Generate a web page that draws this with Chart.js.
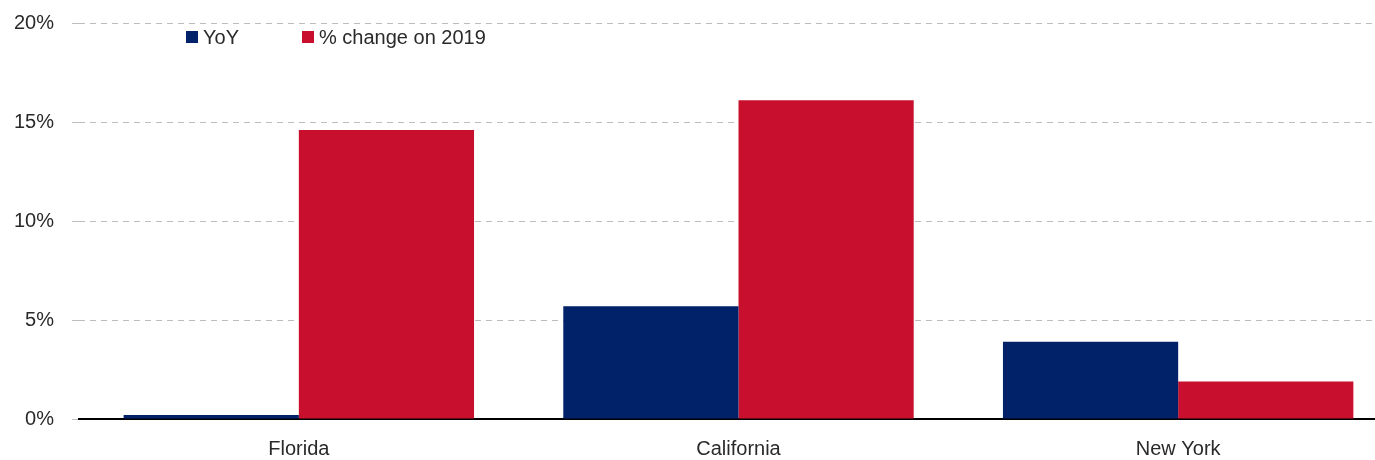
<!DOCTYPE html>
<html>
<head>
<meta charset="utf-8">
<script src="https://cdn.jsdelivr.net/npm/chart.js@4.4.0/dist/chart.umd.min.js"></script>
<style>
  html, body { margin: 0; padding: 0; background: #fff; overflow: hidden; }
  #wrap { position: relative; width: 1375px; height: 460px; overflow: hidden; }
  canvas { display: block; }
  .legend { position: absolute; top: 25px; font-family: "Liberation Sans", Arial, sans-serif; font-size: 20px; color: #2a2a2a; display: flex; align-items: center; line-height: 24px; }
  .legend span.sw { display: inline-block; width: 12px; height: 12px; margin-right: 5px; }
</style>
</head>
<body>
<div id="wrap">
  <canvas id="c" width="1398" height="460"></canvas>
  <div class="legend" style="left:186px;"><span class="sw" style="background:#012169"></span>YoY</div>
  <div class="legend" style="left:302px;"><span class="sw" style="background:#C8102E"></span>% change on 2019</div>
</div>
<script>
const categories = ["Florida", "California", "New York"];
const yoyValues = [0.2, 5.7, 3.9];
const vs2019Values = [14.6, 16.1, 1.9];
const seriesNames = ["YoY", "% change on 2019"];
const yTicks = [0, 5, 10, 15, 20];

const FONT = '"Liberation Sans", Arial, sans-serif';

new Chart(document.getElementById('c'), {
  type: 'bar',
  data: {
    labels: categories,
    datasets: [
      { label: seriesNames[0], data: yoyValues, backgroundColor: '#012169', borderWidth: 0 },
      { label: seriesNames[1], data: vs2019Values, backgroundColor: '#C8102E', borderWidth: 0 }
    ]
  },
  options: {
    responsive: false,
    animation: false,
    maintainAspectRatio: false,
    layout: { padding: { top: 23, right: 0, bottom: 0, left: 0 } },
    plugins: { legend: { display: false }, tooltip: { enabled: false } },
    datasets: { bar: { categoryPercentage: 0.797, barPercentage: 1.0 } },
    scales: {
      x: {
        afterFit: (s) => { s.height = 41; },
        grid: { display: false, drawTicks: false },
        border: { display: true, color: '#000', width: 2 },
        ticks: { color: '#2a2a2a', font: { family: FONT, size: 20 }, padding: 18 }
      },
      y: {
        min: 0, max: 20,
        afterBuildTicks: (s) => { s.ticks = yTicks.map(v => ({ value: v })); },
        afterFit: (s) => { s.width = 79; s.paddingTop = 0; s.paddingBottom = 0; },
        grid: { color: '#bdbdbd', lineWidth: 1, tickLength: 7, drawTicks: true },
        border: { display: false, dash: [6, 5] },
        ticks: { color: '#2a2a2a', font: { family: FONT, size: 20 }, padding: 18, callback: (v) => v + '%' }
      }
    }
  }
});
</script>
</body>
</html>
